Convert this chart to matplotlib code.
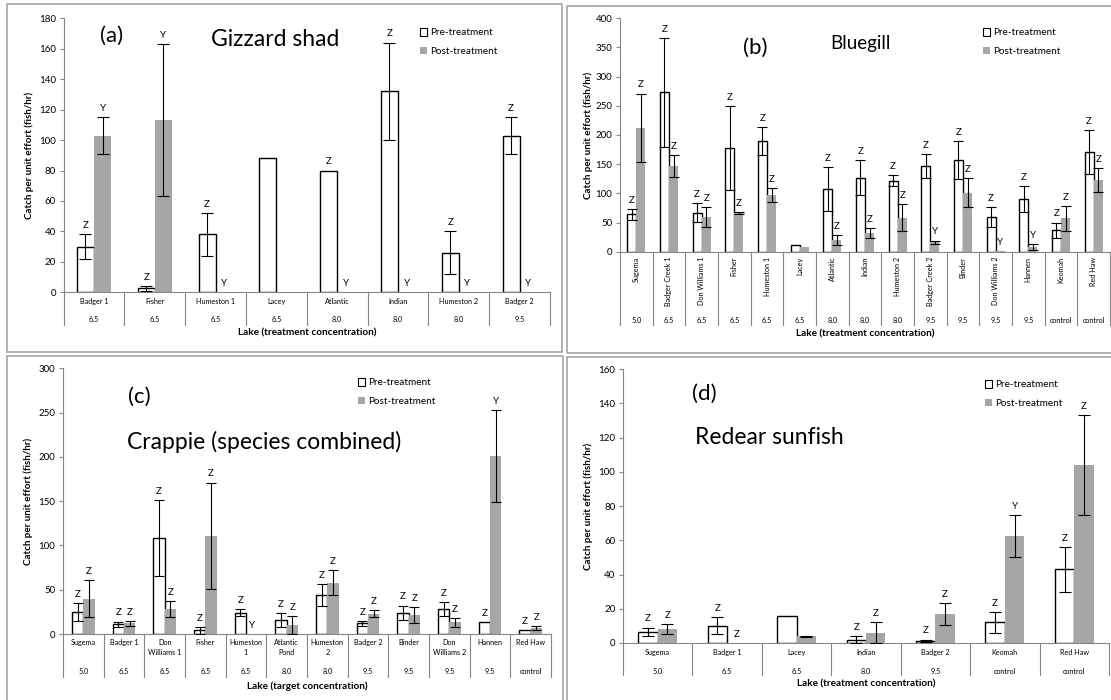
import numpy as np
import matplotlib
matplotlib.use('Agg')
import matplotlib.pyplot as plt
from matplotlib.patches import Rectangle, Patch

plt.rcParams['font.family'] = ['Lato', 'DejaVu Sans']

nan = np.nan

# (a) Gizzard shad
lakes_a = ["Badger 1", "Fisher", "Humeston 1", "Lacey", "Atlantic", "Indian", "Humeston 2", "Badger 2"]
conc_a = ["6.5", "6.5", "6.5", "6.5", "8.0", "8.0", "8.0", "9.5"]
pre_a = [30, 2.5, 38, 88, 80, 132, 26, 103]
pre_err_a = [8, 1.5, 14, nan, nan, 32, 14, 12]
post_a = [103, 113, 0, 0, 0, 0, 0, 0]
post_err_a = [12, 50, nan, nan, nan, nan, nan, nan]
pre_lab_a = ["Z", "Z", "Z", "", "Z", "Z", "Z", "Z"]
post_lab_a = ["Y", "Y", "Y", "", "Y", "Y", "Y", "Y"]

# (b) Bluegill
lakes_b = ["Sugema", "Badger Creek 1", "Don Williams 1", "Fisher", "Humeston 1", "Lacey", "Atlantic",
           "Indian", "Humeston 2", "Badger Creek 2", "Binder", "Don Williams 2", "Hannen", "Keomah", "Red Haw"]
conc_b = ["5.0", "6.5", "6.5", "6.5", "6.5", "6.5", "8.0", "8.0", "8.0", "9.5", "9.5", "9.5", "9.5",
          "control", "control"]
pre_b = [64, 273, 67, 177, 189, 12, 107, 127, 122, 147, 157, 59, 90, 37, 171]
pre_err_b = [9, 93, 16, 72, 24, nan, 38, 30, 10, 20, 33, 17, 22, 13, 38]
post_b = [212, 147, 59, 66, 97, 8, 20, 32, 58, 16, 101, 1, 8, 57, 123]
post_err_b = [59, 19, 17, 2, 12, nan, 9, 9, 23, 3, 25, nan, 5, 21, 21]
pre_lab_b = ["Z", "Z", "Z", "Z", "Z", "", "Z", "Z", "Z", "Z", "Z", "Z", "Z", "Z", "Z"]
post_lab_b = ["Z", "Z", "Z", "Z", "Z", "", "Z", "Z", "Z", "Y", "Z", "Y", "Y", "Z", "Z"]

# (c) Crappie
lakes_c = ["Sugema", "Badger 1", "Don\nWilliams 1", "Fisher", "Humeston\n1", "Atlantic\nPond",
           "Humeston\n2", "Badger 2", "Binder", "Don\nWilliams 2", "Hannen", "Red Haw"]
conc_c = ["5.0", "6.5", "6.5", "6.5", "6.5", "8.0", "8.0", "9.5", "9.5", "9.5", "9.5", "control"]
pre_c = [25, 11, 108, 4, 24, 16, 44, 12, 24, 28, 13, 4]
pre_err_c = [10, 3, 43, 4, 4, 8, 12, 3, 8, 8, nan, nan]
post_c = [40, 12, 28, 111, 0, 10, 58, 23, 21, 13, 201, 7]
post_err_c = [21, 3, 9, 60, nan, 10, 14, 4, 9, 5, 52, 2]
pre_lab_c = ["Z"] * 12
post_lab_c = ["Z", "Z", "Z", "Z", "Y", "Z", "Z", "Z", "Z", "Z", "Y", "Z"]

# (d) Redear sunfish
lakes_d = ["Sugema", "Badger 1", "Lacey", "Indian", "Badger 2", "Keomah", "Red Haw"]
conc_d = ["5.0", "6.5", "6.5", "8.0", "9.5", "control", "control"]
pre_d = [6.5, 10, 16, 2, 1.2, 12, 43]
pre_err_d = [2.5, 5, nan, 2, 0.8, 6, 13]
post_d = [8, 0, 4, 6, 17, 62.5, 104]
post_err_d = [3, nan, 0.3, 6, 6.5, 12, 29]
pre_lab_d = ["Z", "Z", "", "Z", "Z", "Z", "Z"]
post_lab_d = ["Z", "Z", "", "Z", "Z", "Y", "Z"]

W, H = 1111, 700
fig = plt.figure(figsize=(W / 100, H / 100), dpi=100)
fig.patch.set_facecolor('white')

AXIS_GRAY = '#868686'
POST_GRAY = '#a6a6a6'


def add_ax(x0, y0, x1, y1):
    return fig.add_axes([x0 / W, 1 - y1 / H, (x1 - x0) / W, (y1 - y0) / H])


def below(ax, px):
    return -px / (ax.get_position().height * H)


def draw_panel(ax, lakes, conc, pre, pre_err, post, post_err, pre_lab, post_lab,
               ymax, ystep, name_off, conc_off, sep_off, xl_off, ylab_off,
               rotate=False, capsize=4, xlabel='Lake (treatment concentration)'):
    n = len(lakes)
    x = np.arange(n)
    w = 0.28
    ax.bar(x - w / 2, pre, w, color='white', edgecolor='black', linewidth=1.0, zorder=2)
    ax.bar(x + w / 2, post, w, color=POST_GRAY, linewidth=0, zorder=2)
    for xs, vals, errs, labs in [(x - w / 2, pre, pre_err, pre_lab), (x + w / 2, post, post_err, post_lab)]:
        vals = np.array(vals, float)
        errs = np.array(errs, float)
        ok = ~np.isnan(errs)
        ax.errorbar(xs[ok], vals[ok], yerr=errs[ok], fmt='none', ecolor='black',
                    elinewidth=0.8, capsize=capsize, capthick=0.8, zorder=3)
        tops = vals + np.nan_to_num(errs)
        for xi, t, lab in zip(xs, tops, labs):
            if lab:
                ax.annotate(lab, (xi, t), xytext=(0, 3), textcoords='offset points',
                            ha='center', va='bottom', fontsize=7)

    ax.set_xlim(-0.5, n - 0.5)
    ax.set_ylim(0, ymax)
    ax.set_yticks(np.arange(0, ymax + 1, ystep))
    ax.set_xticks([])
    ax.tick_params(axis='y', length=3, width=0.8, color=AXIS_GRAY, labelsize=7, pad=2.5)
    for s in ['top', 'right']:
        ax.spines[s].set_visible(False)
    for s in ['left', 'bottom']:
        ax.spines[s].set_color(AXIS_GRAY)
        ax.spines[s].set_linewidth(0.8)

    # category table under the axis
    tr = ax.get_xaxis_transform()
    for b in np.arange(-0.5, n):
        ax.plot([b, b], [0, below(ax, sep_off)], transform=tr, clip_on=False,
                color=AXIS_GRAY, lw=0.8)
    for i in range(n):
        ax.text(i, below(ax, name_off), lakes[i], transform=tr, ha='center', va='top',
                fontsize=5.2, rotation=90 if rotate else 0, linespacing=1.5)
        ax.text(i, below(ax, conc_off), conc[i], transform=tr, ha='center', va='center',
                fontsize=5.2)
    ax.text(0.5, below(ax, xl_off), xlabel, transform=ax.transAxes,
            ha='center', va='center', fontsize=7.2, fontweight='bold')
    ax.set_ylabel('Catch per unit effort (fish/hr)', fontsize=7, fontweight='bold')
    ax.yaxis.set_label_coords(-ylab_off / (ax.get_position().width * W), 0.5)


def add_legend(ax, x_px, y_px):
    handles = [Patch(facecolor='white', edgecolor='black', linewidth=0.8, label='Pre-treatment'),
               Patch(facecolor=POST_GRAY, label='Post-treatment')]
    ax.legend(handles=handles, loc='upper left', bbox_to_anchor=(x_px / W, 1 - y_px / H),
              bbox_transform=fig.transFigure, frameon=False, fontsize=7.2,
              handlelength=0.7, handleheight=0.8, handletextpad=0.3,
              labelspacing=0.95, borderpad=0, borderaxespad=0)


# panel frames
for x0, y0, x1, y1 in [(7, 4, 562, 352), (567, 6, 1125, 353), (7, 356, 563, 715), (567, 357, 1125, 715)]:
    fig.add_artist(Rectangle((x0 / W, 1 - y1 / H), (x1 - x0) / W, (y1 - y0) / H,
                             transform=fig.transFigure, fill=False, ec='#a6a6a6', lw=1.2))

ax_a = add_ax(63.6, 18.3, 550, 292.3)
draw_panel(ax_a, lakes_a, conc_a, pre_a, pre_err_a, post_a, post_err_a, pre_lab_a, post_lab_a,
           180, 20, 6, 27, 33, 41, 30, capsize=4.5)
add_legend(ax_a, 420, 28)

ax_b = add_ax(620, 18.3, 1110, 251.7)
draw_panel(ax_b, lakes_b, conc_b, pre_b, pre_err_b, post_b, post_err_b, pre_lab_b, post_lab_b,
           400, 50, 5, 69, 73, 82, 27, rotate=True, capsize=3.5)
add_legend(ax_b, 983, 28)

ax_c = add_ax(63, 368.3, 551, 634)
draw_panel(ax_c, lakes_c, conc_c, pre_c, pre_err_c, post_c, post_err_c, pre_lab_c, post_lab_c,
           300, 50, 5, 38, 43, 52, 30, capsize=3.5,
           xlabel='Lake (target concentration)')
add_legend(ax_c, 358, 378)

ax_d = add_ax(623, 369, 1109, 643)
draw_panel(ax_d, lakes_d, conc_d, pre_d, pre_err_d, post_d, post_err_d, pre_lab_d, post_lab_d,
           160, 20, 6, 28, 32, 41, 30, capsize=4.5)
add_legend(ax_d, 985, 380)

# panel titles
def ftext(x, y, s, size):
    fig.text(x / W, 1 - y / H, s, ha='center', va='center', fontsize=size)

ftext(112, 36, '(a)', 16)
ftext(275, 39, 'Gizzard shad', 16.5)
ftext(755, 48, '(b)', 16)
ftext(860, 44, 'Bluegill', 13.5)
ftext(139, 397, '(c)', 16)
ftext(264, 442, 'Crappie (species combined)', 16.5)
ftext(704, 394, '(d)', 16)
ftext(769, 437, 'Redear sunfish', 16.5)

fig.savefig('out.png', dpi=100, facecolor='white')
